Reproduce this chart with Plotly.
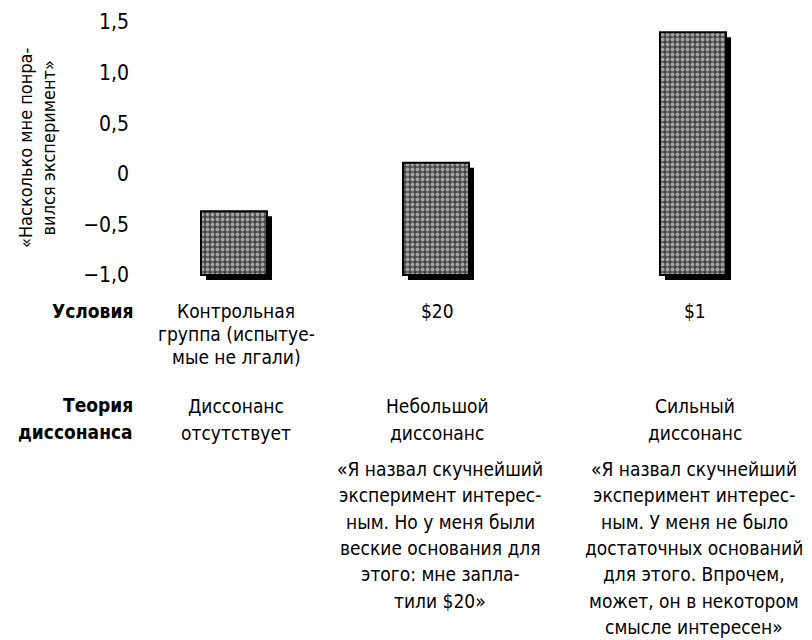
import plotly.graph_objects as go

# --- data ---
conditions = ["Контрольная группа", "$20", "$1"]
liking = [-0.37, 0.11, 1.40]
baseline = -1.0
tick_vals = [-1.0, -0.5, 0, 0.5, 1.0, 1.5]
tick_text = ["\u22121,0", "\u22120,5", "0", "0,5", "1,0", "1,5"]

cond_lines = [["Контрольная", "группа (испытуе-", "мые не лгали)"], ["$20"], ["$1"]]
theory_lines = [["Диссонанс", "отсутствует"], ["Небольшой", "диссонанс"], ["Сильный", "диссонанс"]]
quote_lines = [
    [],
    ["«Я назвал скучнейший", "эксперимент интерес-", "ным. Но у меня были",
     "веские основания для", "этого: мне запла-", "тили $20»"],
    ["«Я назвал скучнейший", "эксперимент интерес-", "ным. У меня не было",
     "достаточных оснований", "для этого. Впрочем,", "может, он в некотором",
     "смысле интересен»"],
]

# --- layout, worked out in page pixels (the page body adds an 8px margin) ---
PAD = 8
W, H = 812 - PAD, 640 - PAD
AXIS_X = 130                  # page x of the y axis
L = AXIS_X - PAD
T, B = 4, 355
Y0, Y1 = -1.1, 1.6
slot_x = [234, 436, 693]      # bar centres; x axis runs in page pixels
text_x = [236, 437, 695]
quote_x = [236, 440, 694]
bar_w = 66
shadow = 5                    # px

FONT = "Liberation Sans Narrow, DejaVu Sans Condensed, Arial Narrow, sans-serif"
plot_h = H - T - B
ppu = plot_h / (Y1 - Y0)


def py(p):
    """page pixel row -> paper y"""
    return (H - B - (p - PAD)) / plot_h


heights = [v - baseline for v in liking]

fig = go.Figure()
fig.add_trace(go.Bar(
    x=slot_x, y=heights, base=[baseline - shadow / ppu] * 3,
    width=bar_w, offset=-bar_w / 2 + shadow,
    marker=dict(color="black", line=dict(width=0)),
    hoverinfo="skip", showlegend=False,
))
fig.add_trace(go.Bar(
    x=slot_x, y=heights, base=[baseline] * 3,
    width=bar_w, offset=-bar_w / 2,
    customdata=liking, hovertemplate="%{customdata}<extra></extra>",
    marker=dict(
        color="#5a5a5a",
        line=dict(color="black", width=2),
        pattern=dict(shape=".", fgcolor="white", bgcolor="#484848", size=5, solidity=0.45),
    ),
    showlegend=False,
))

ann = []


def txt(s, x, y, size=19, bold=False, xanchor="center"):
    ann.append(dict(
        text=f"<b>{s}</b>" if bold else s, x=x, y=py(y), xref="x", yref="paper",
        xanchor=xanchor, yanchor="middle", showarrow=False,
        font=dict(family=FONT, size=size, color="black"),
    ))


txt("Условия", 135, 311, bold=True, xanchor="right")
txt("Теория", 135, 405, bold=True, xanchor="right")
txt("диссонанса", 135, 432, bold=True, xanchor="right")

for i in range(3):
    for j, s in enumerate(cond_lines[i]):
        txt(s, text_x[i], 311 + 23 * j)
    for j, s in enumerate(theory_lines[i]):
        txt(s, text_x[i], 406 + 27 * j)
    for j, s in enumerate(quote_lines[i]):
        txt(s, quote_x[i], 469 + 26.3 * j)

# rotated y title, two lines
ann.append(dict(
    text="«Насколько мне понра-<br>вился эксперимент»", textangle=-90,
    x=((37 - PAD) - L) / (W - L), y=py(148), xref="paper", yref="paper",
    showarrow=False, xanchor="center", yanchor="middle", align="center",
    font=dict(family=FONT, size=18, color="black"),
))

fig.update_layout(
    width=W, height=H,
    margin=dict(l=L, r=0, t=T, b=B),
    paper_bgcolor="white", plot_bgcolor="white",
    barmode="overlay",
    annotations=ann,
    xaxis=dict(range=[AXIS_X, 812], visible=False, fixedrange=True),
    yaxis=dict(
        range=[Y0, Y1], tickvals=tick_vals, ticktext=tick_text,
        showgrid=False, zeroline=False, showline=False, ticks="",
        tickfont=dict(family=FONT, size=21, color="black"),
    ),
)

fig.write_html("out.html")
